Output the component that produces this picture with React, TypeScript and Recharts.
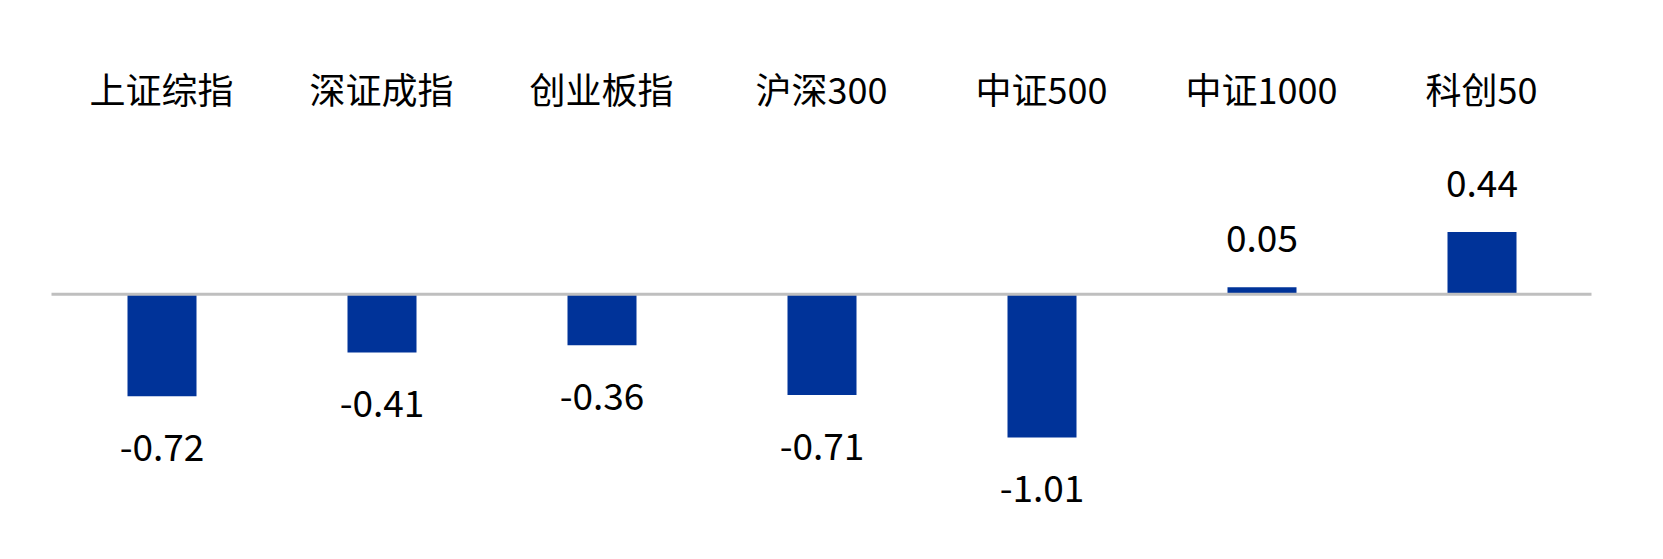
import React from 'react';
import { BarChart, Bar, XAxis, YAxis, ReferenceLine, LabelList } from 'recharts';

const categories = ['上证综指', '深证成指', '创业板指', '沪深300', '中证500', '中证1000', '科创50'];
const changes = [-0.72, -0.41, -0.36, -0.71, -1.01, 0.05, 0.44];

const data = categories.map((name, i) => ({ name, value: changes[i] }));

const FONT = '"Noto Sans CJK SC", "Noto Sans", sans-serif';

const CategoryTick = (props: any) => {
  const { x, y, payload } = props;
  return (
    <text x={x} y={y} dy={-20.6} textAnchor="middle" fontSize={36} fill="#000" fontFamily={FONT}>
      {payload.value}
    </text>
  );
};

const ValueLabel = (props: any) => {
  const { x, y, width, height, value } = props;
  const top = Math.min(y, y + height);
  const bottom = Math.max(y, y + height);
  const cx = x + width / 2;
  const ty = value < 0 ? bottom + 65 : top - 35;
  return (
    <text x={cx} y={ty} textAnchor="middle" fontSize={37} fill="#000" fontFamily={FONT}>
      {Number(value).toFixed(2)}
    </text>
  );
};

export default function App() {
  return (
    <div style={{ position: 'absolute', left: 0, top: 0, background: '#fff' }}>
      <BarChart
        width={1663}
        height={559}
        data={data}
        margin={{ top: 84.3, right: 71.5, bottom: 66.3, left: 51.5 }}
      >
        <XAxis
          dataKey="name"
          orientation="top"
          height={40}
          axisLine={false}
          tickLine={false}
          tickSize={0}
          tickMargin={0}
          interval={0}
          tick={<CategoryTick />}
        />
        <YAxis hide domain={[-1.4, 1.2]} />
        <Bar dataKey="value" fill="#003399" barSize={69} isAnimationActive={false}>
          <LabelList dataKey="value" content={<ValueLabel />} />
        </Bar>
        <ReferenceLine y={0} stroke="#bfbfbf" strokeWidth={3} />
      </BarChart>
    </div>
  );
}
